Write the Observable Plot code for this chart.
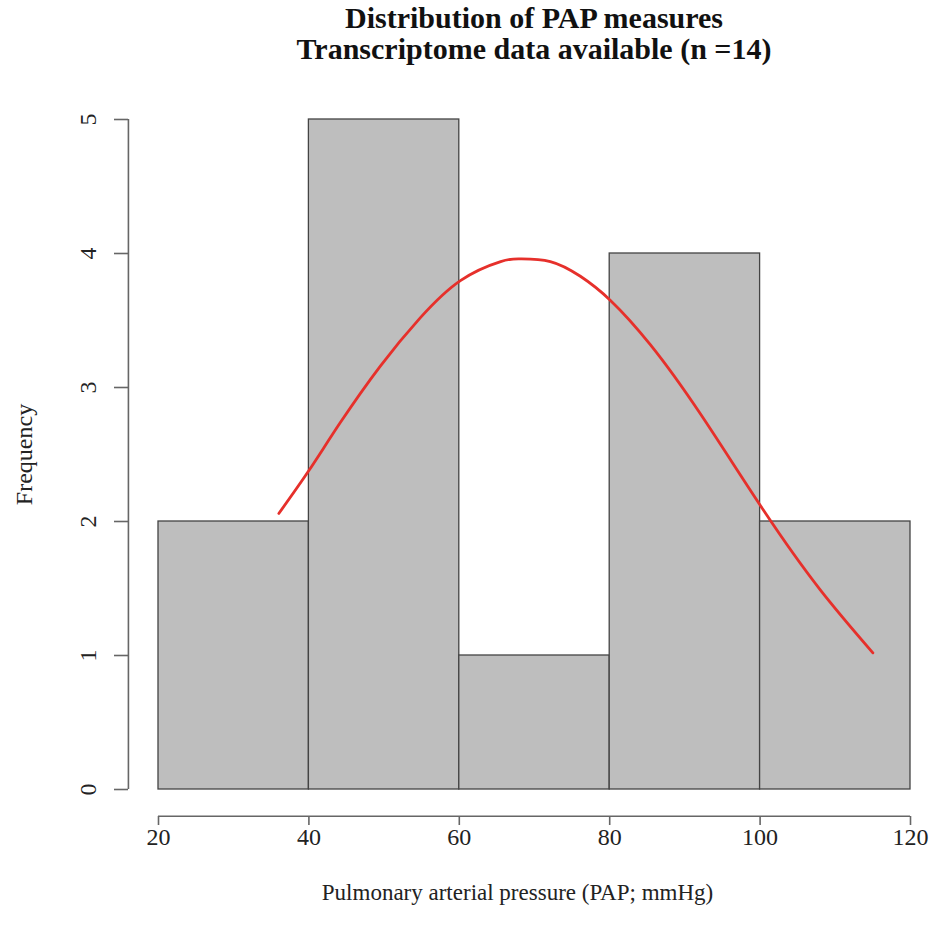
<!DOCTYPE html>
<html>
<head>
<meta charset="utf-8">
<script src="https://cdn.jsdelivr.net/npm/d3@7"></script>
<script src="https://cdn.jsdelivr.net/npm/@observablehq/plot@0.6"></script>
<style>
  html, body { margin: 0; padding: 0; background: #fff; }
  #wrap { width: 930px; height: 939px; position: relative; overflow: hidden; }
  #title {
    height: 80px; box-sizing: border-box; padding-top: 2px; padding-left: 138px;
    font-family: "Liberation Serif", "Times New Roman", serif; font-weight: bold;
    font-size: 30px; line-height: 31px; text-align: center; color: #111;
  }
</style>
</head>
<body>
<div id="wrap">
  <div id="title">Distribution of PAP measures<br>Transcriptome data available (n =14)</div>
  <div id="chart"></div>
</div>
<script>
// ---- data ----
const binStarts = [20, 40, 60, 80, 100];
const binEnds   = [40, 60, 80, 100, 120];
const counts    = [2, 5, 1, 4, 2];

// fitted (normal) curve
const curveX = [36, 40, 44.2, 49.5, 54.8, 60.2, 65.5, 68.1, 72.1, 76.1, 80.1, 85.4, 92.1, 100.5, 108, 115];
const curveY = [2.06, 2.38, 2.74, 3.16, 3.52, 3.80, 3.94, 3.96, 3.94, 3.83, 3.65, 3.32, 2.80, 2.08, 1.49, 1.02];

const xTicks = [20, 40, 60, 80, 100, 120];
const yTicks = [0, 1, 2, 3, 4, 5];
const xLabel = "Pulmonary arterial pressure (PAP; mmHg)";
const yLabel = "Frequency";

// ---- build ----
const bins = binStarts.map((s, i) => ({x1: s, x2: binEnds[i], count: counts[i]}));
const curve = curveX.map((x, i) => ({x, y: curveY[i]}));

const xMin = xTicks[0], xMax = xTicks[xTicks.length - 1];
const yMin = yTicks[0], yMax = yTicks[yTicks.length - 1];
// R-style axis offset: 4% of the data range
const yAxisX = xMin - 0.04 * (xMax - xMin);
const xAxisY = yMin - 0.04 * (yMax - yMin);

const font = "Liberation Serif, Times New Roman, serif";
const axisColor = "#666";

const chart = Plot.plot({
  width: 930,
  height: 859,
  marginLeft: 128,
  marginRight: 20,
  marginTop: 12,
  marginBottom: 123,
  style: {fontFamily: font, fontSize: "24px", color: "#222", background: "#fff"},
  x: {domain: [xMin, xMax], range: [158, 910], axis: null},
  y: {domain: [yMin, yMax], range: [709, 39], axis: null},
  marks: [
    Plot.rect(bins, {x1: "x1", x2: "x2", y1: 0, y2: "count", fill: "#bebebe", stroke: "#444", strokeWidth: 1.3}),
    Plot.line(curve, {x: "x", y: "y", stroke: "#e6302b", strokeWidth: 2.8, curve: "natural"}),
    // y axis
    Plot.ruleX([yAxisX], {y1: yMin, y2: yMax, stroke: axisColor, strokeWidth: 1.6}),
    Plot.axisY({anchor: "left", ticks: yTicks, tickSize: 14, tickFormat: () => "", stroke: axisColor, strokeWidth: 1.6}),
    Plot.text(yTicks, {x: yAxisX, y: d => d, text: d => String(d), rotate: -90, dx: -40, fontSize: 24, lineAnchor: "middle", textAnchor: "middle", fill: "#222"}),
    Plot.text([yLabel], {x: yAxisX, y: (yMin + yMax) / 2, text: d => d, rotate: -90, dx: -104, fontSize: 24, lineAnchor: "middle", textAnchor: "middle", fill: "#222"}),
    // x axis
    Plot.ruleY([xAxisY], {x1: xMin, x2: xMax, stroke: axisColor, strokeWidth: 1.6}),
    Plot.axisX({anchor: "bottom", ticks: xTicks, tickSize: 9, tickPadding: 2, fontSize: 24, stroke: axisColor, strokeWidth: 1.6, fill: "#222"}),
    Plot.text([xLabel], {x: (xMin + xMax) / 2, y: xAxisY, text: d => d, dx: -17, dy: 76, fontSize: 23, lineAnchor: "middle", textAnchor: "middle", fill: "#222"})
  ]
});
document.getElementById("chart").appendChild(chart);
</script>
</body>
</html>
